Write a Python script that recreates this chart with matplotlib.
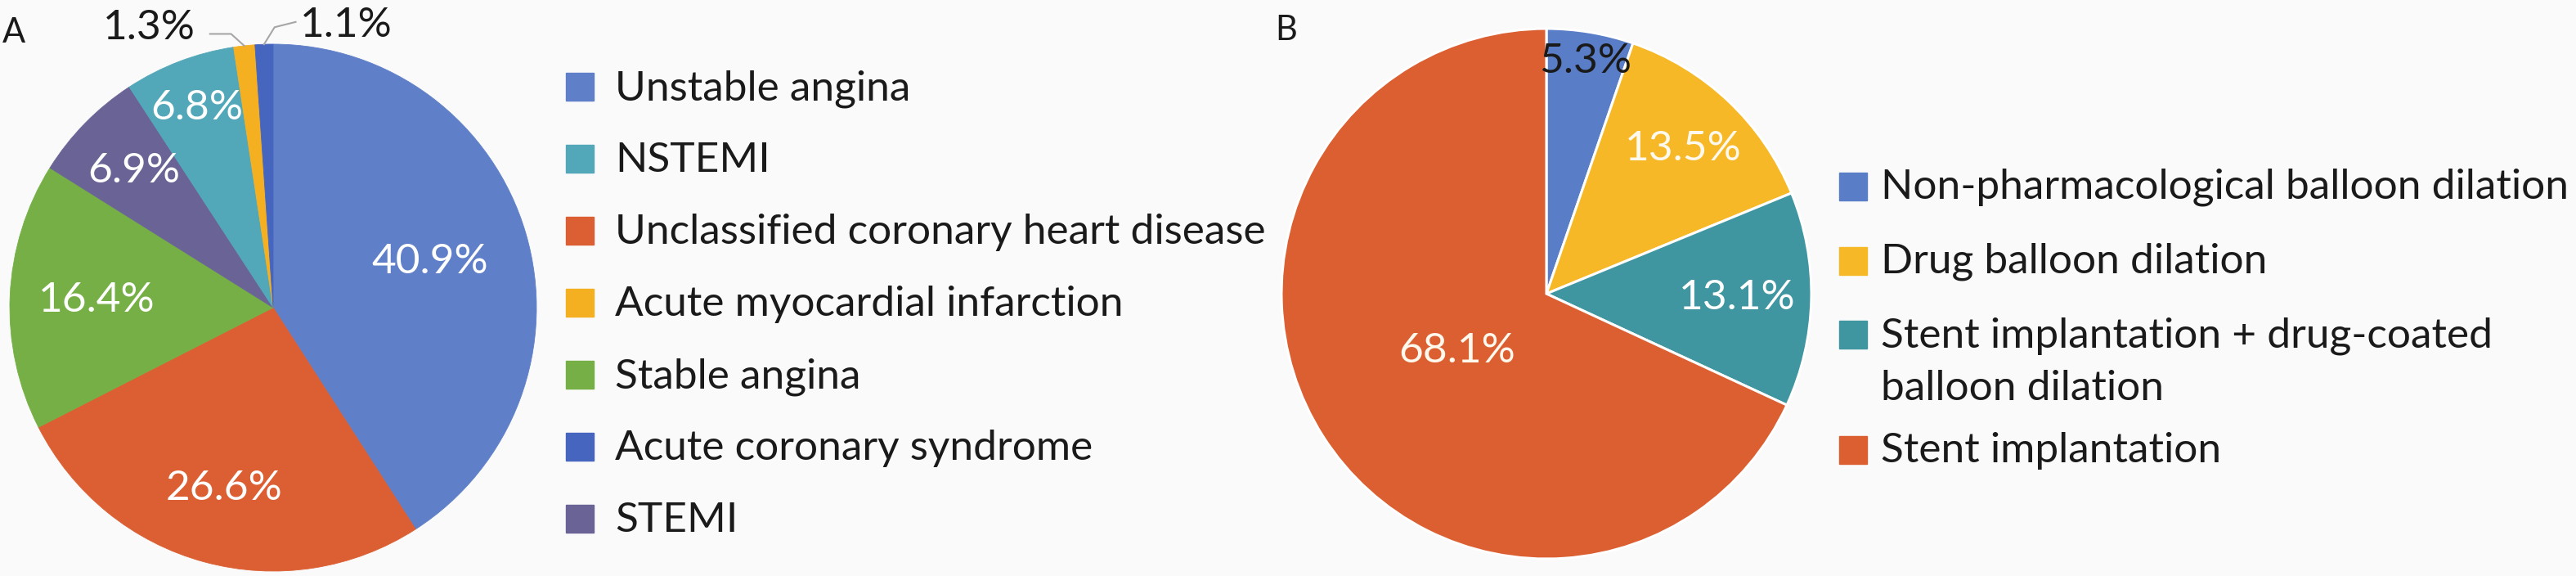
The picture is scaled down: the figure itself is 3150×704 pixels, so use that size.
import numpy as np
import matplotlib.pyplot as plt
from matplotlib.patches import Rectangle

plt.rcParams["font.family"] = ["Lato", "DejaVu Sans"]

# panel A: diagnosis (clockwise from 12 o'clock)
diag_names = ["Unstable angina", "Unclassified coronary heart disease", "Stable angina",
              "STEMI", "NSTEMI", "Acute myocardial infarction", "Acute coronary syndrome"]
diag_pct = [40.9, 26.6, 16.4, 6.9, 6.8, 1.3, 1.1]
diag_colors = ["#5F7FC8", "#DC5F33", "#76AF45", "#6A6496", "#52A8B9", "#F5B022", "#4565BF"]
diag_legend = ["Unstable angina", "NSTEMI", "Unclassified coronary heart disease",
               "Acute myocardial infarction", "Stable angina", "Acute coronary syndrome", "STEMI"]

# panel B: procedure (clockwise from 12 o'clock)
proc_names = ["Non-pharmacological balloon dilation", "Drug balloon dilation",
              "Stent implantation + drug-coated\nballoon dilation", "Stent implantation"]
proc_pct = [5.3, 13.5, 13.1, 68.1]
proc_colors = ["#5A7DC8", "#F6B826", "#3F96A0", "#DC5F32"]

W, H = 3150, 704
FS = 37
BG = "#FAFAFA"

fig = plt.figure(figsize=(W / 100, H / 100), dpi=100, facecolor=BG)


def fx(x):
    return x / W


def fy(y):
    return 1 - y / H


def pie_axes(cx, cy, r):
    ax = fig.add_axes([fx(cx - r), fy(cy + r), 2 * r / W, 2 * r / H])
    ax.set_facecolor("none")
    return ax


def mid_angle(w):
    return np.deg2rad((w.theta1 + w.theta2) / 2)


# ---- A ----
axA = pie_axes(334, 376, 322)
wedgesA, _ = axA.pie(diag_pct, colors=diag_colors, startangle=90, counterclock=False,
                     wedgeprops=dict(linewidth=0.6))
for w in wedgesA:
    w.set_edgecolor(w.get_facecolor())
axA.set_xlim(-1, 1)
axA.set_ylim(-1, 1)
axA.set_aspect("equal")

label_rA = [0.62, 0.71, 0.67, 0.74, 0.81]
for w, p, rr in zip(wedgesA, diag_pct, label_rA):
    a = mid_angle(w)
    axA.text(rr * np.cos(a), rr * np.sin(a), f"{p}%", color="white", fontsize=FS,
             ha="center", va="center")

# small slices with leader lines
leaders = [((-0.05, 0.045), (-0.08, 0.0), (-0.055, 0.022), "right"),
           ((0.04, 0.065), (0.08, 0.02), (0.016, -0.012), "left")]
for w, p, (d1, d2, dt, ha) in zip(wedgesA[5:], diag_pct[5:], leaders):
    a = mid_angle(w)
    x0, y0 = np.cos(a), np.sin(a)
    x1, y1 = x0 + d1[0], y0 + d1[1]
    x2, y2 = x1 + d2[0], y1 + d2[1]
    axA.plot([x0, x1, x2], [y0, y1, y2], color="#A6A6A6", lw=1.5, clip_on=False)
    axA.text(x2 + dt[0], y2 + dt[1], f"{p}%", color="#1A1A1A", fontsize=FS,
             ha=ha, va="center", clip_on=False)

fig.text(fx(3), fy(52), "A", fontsize=30, color="#1A1A1A", ha="left", va="baseline")

# legend A
colA = dict(zip(diag_names, diag_colors))
for i, name in enumerate(diag_legend):
    yc = 106 + 88 * i
    fig.patches.append(Rectangle((fx(692), fy(yc + 17)), 34 / W, 34 / H,
                                 transform=fig.transFigure, color=colA[name]))
    fig.text(fx(752), fy(yc + 16), name, fontsize=FS, color="#1A1A1A",
             ha="left", va="baseline")

# ---- B ----
axB = pie_axes(1891, 359, 324)
wedgesB, _ = axB.pie(proc_pct, colors=proc_colors, startangle=90, counterclock=False,
                     wedgeprops=dict(edgecolor="white", linewidth=2.2))
axB.set_xlim(-1, 1)
axB.set_ylim(-1, 1)
axB.set_aspect("equal")

label_rB = [0.89, 0.75, 0.72, 0.40]
label_cB = ["#1A1A1A", "#FFF8EC", "white", "#FFF8EC"]
for w, p, rr, c in zip(wedgesB, proc_pct, label_rB, label_cB):
    a = mid_angle(w)
    axB.text(rr * np.cos(a), rr * np.sin(a), f"{p}%", color=c, fontsize=FS,
             ha="center", va="center")

fig.text(fx(1559), fy(49), "B", fontsize=30, color="#1A1A1A", ha="left", va="baseline")

# legend B
legB_y = [228, 319, 409, 550]
for name, c, yc in zip(proc_names, proc_colors, legB_y):
    fig.patches.append(Rectangle((fx(2249), fy(yc + 17)), 34 / W, 34 / H,
                                 transform=fig.transFigure, color=c))
    for k, line in enumerate(name.split("\n")):
        fig.text(fx(2300), fy(yc + 15 + 65 * k), line, fontsize=FS, color="#1A1A1A",
                 ha="left", va="baseline")

fig.savefig("out.png", dpi=100, facecolor=BG)
